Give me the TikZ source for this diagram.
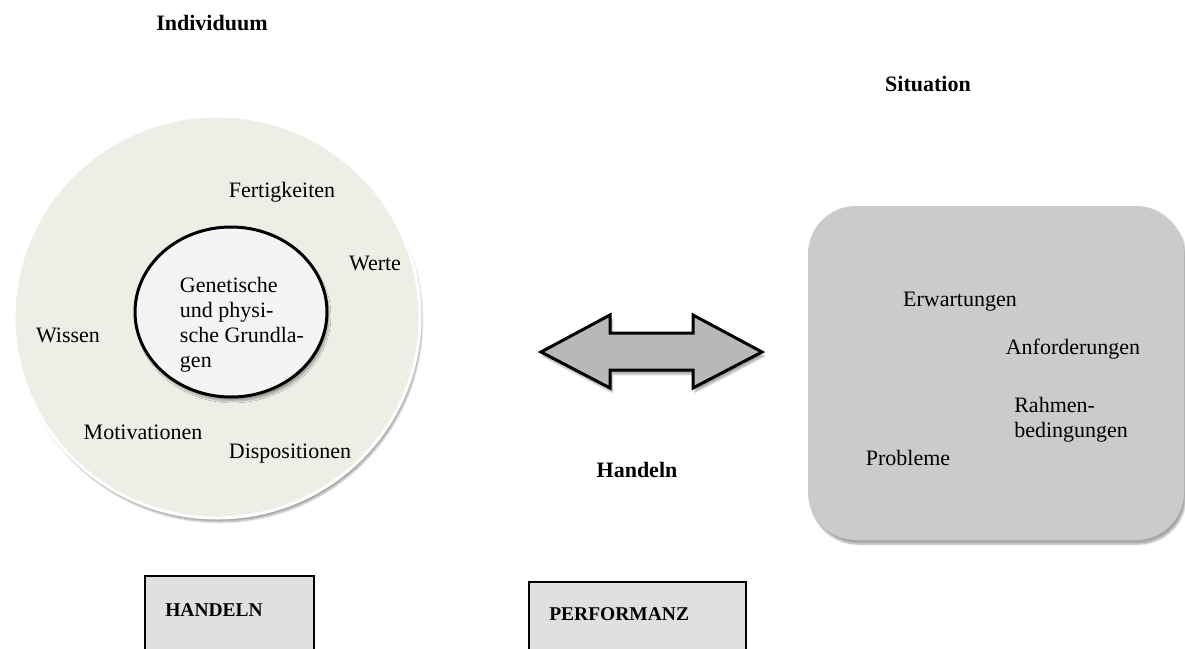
\documentclass[tikz,border=0pt]{standalone}
\usepackage{fontspec}
\setmainfont{Liberation Serif}
\usetikzlibrary{shapes,shadows,shadows.blur}

\definecolor{outerfill}{HTML}{EEEDE6}
\definecolor{innerfill}{HTML}{F4F4F4}
\definecolor{sitfill}{HTML}{CBCBCB}
\definecolor{boxfill}{HTML}{E0E0E0}
\definecolor{arrowfill}{HTML}{B8B8B8}

\begin{document}
\begin{tikzpicture}[x=1pt,y=-1pt,semithick,
                    every node/.style={font=\fontsize{22}{25}\selectfont,inner sep=0pt},
                    every text node part/.style={align=left}]
  \tikzstyle{heading}=[font=\fontsize{22}{25}\selectfont\bfseries]
  \tikzstyle{boxtext}=[font=\fontsize{19.5}{22}\selectfont\bfseries,anchor=west]
  \tikzstyle{outbox}=[draw=black,line width=1.5pt,fill=boxfill,anchor=north west]
  \tikzstyle{soft}=[blur shadow={shadow xshift=2pt,shadow yshift=-4pt,shadow opacity=35,shadow blur steps=6}]
  \useasboundingbox (0,0) rectangle (1185,648);

  % Individuum
  \node[heading] (ind) at (212,23) {Individuum};
  \node[ellipse,minimum width=406,minimum height=402,fill=outerfill,draw=white,line width=3pt,soft] (outer) at (217,317) {};
  \node[ellipse,minimum width=192,minimum height=170,fill=innerfill,draw=black,line width=3pt,soft] (inner) at (231,312) {};
  \node (gen) at (242,325) {Genetische\\und physi-\\sche Grundla-\\gen};
  \node (fert) at (282,192) {Fertigkeiten};
  \node (werte) at (375,263) {Werte};
  \node (wissen) at (68,335) {Wissen};
  \node (motiv) at (143,432) {Motivationen};
  \node (dispo) at (290,454) {Dispositionen};

  % Situation
  \node[heading] (sit) at (928,84) {Situation};
  \node[rectangle,rounded corners=48pt,minimum width=376,minimum height=334,fill=sitfill,soft] (sbox) at (996,373) {};
  \node (erw) at (960,302) {Erwartungen};
  \node (anf) at (1073,349) {Anforderungen};
  \node[anchor=west] (rahmen) at (1014,420) {Rahmen-\\bedingungen};
  \node (probl) at (908,458) {Probleme};

  % Handeln
  \coordinate (ltip) at (541,352);
  \coordinate (rtip) at (762,352);
  \draw[line width=3pt,fill=arrowfill,line join=miter,soft]
    (ltip) -- (610,315) -- (610,333) -- (693,333) -- (693,315) -- (rtip)
    -- (693,388) -- (693,370) -- (610,370) -- (610,388) -- cycle;
  \node[heading] (hand) at (637,470) {Handeln};

  % untere Kaesten
  \node[outbox,minimum width=169,minimum height=90] (hbox) at (144,575) {};
  \node[boxtext] (htext) at (165,610) {HANDELN};
  \node[outbox,minimum width=217,minimum height=90] (pbox) at (528,581) {};
  \node[boxtext] (ptext) at (549,614) {PERFORMANZ};
\end{tikzpicture}
\end{document}
